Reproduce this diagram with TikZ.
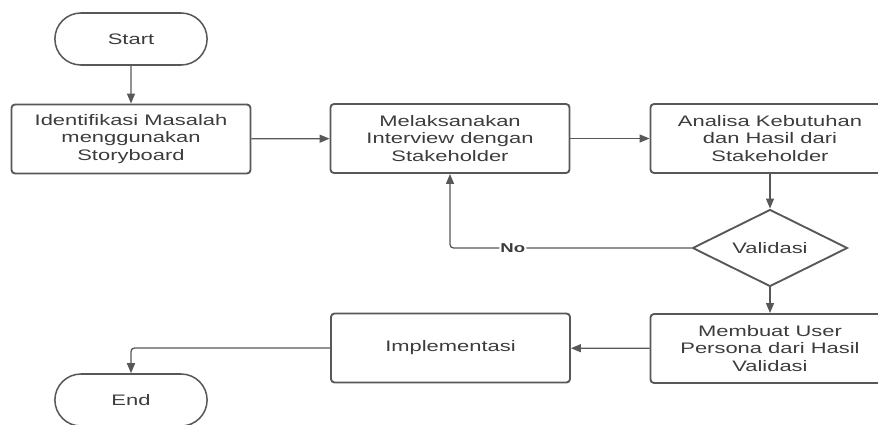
\documentclass[tikz,border=0pt]{standalone}
\usepackage{fontspec}
\setmainfont[FakeStretch=1.44]{Liberation Sans}
\usepackage{xcolor}
\usepackage{tikz}
\usetikzlibrary{positioning,shapes,shapes.misc,shapes.geometric,arrows.meta}
\definecolor{linegray}{RGB}{88,88,88}
\definecolor{textgray}{RGB}{60,60,60}

\begin{document}
\begin{tikzpicture}[x=0.03cm, y=-0.03cm,
  box/.style={draw=linegray, line width=1.6pt, rectangle, rounded corners=3pt, minimum width=7.17cm, minimum height=2.07cm, align=center, text=textgray, font=\fontsize{13}{15}\selectfont},
  terminal/.style={draw=linegray, line width=1.3pt, rounded rectangle, minimum width=4.8cm, minimum height=1.56cm, text=textgray, font=\fontsize{13}{15}\selectfont},
  decision/.style={draw=linegray, line width=1.6pt, diamond, aspect=2, minimum width=4.65cm, minimum height=2.31cm, inner sep=0pt, text=textgray, font=\fontsize{13}{15}\selectfont},
  arr/.style={draw=linegray, line width=1.1pt, -{Triangle[length=3mm, width=2.4mm]}}]
\clip (0,0) rectangle (878,424);

\node[terminal] (start) at (131,39) {Start};
\node[box] (ident) at (131,139) {Identifikasi Masalah\\menggunakan\\Storyboard};
\node[box] (melak) at (450,138.5) {Melaksanakan\\Interview dengan\\Stakeholder};
\node[box] (analisa) at (770,138.5) {Analisa Kebutuhan\\dan Hasil dari\\Stakeholder};
\node[decision] (valid) at (770,248) {Validasi};
\node[box] (persona) at (770,348.5) {Membuat User\\Persona dari Hasil\\Validasi};
\node[box] (impl) at (450.5,348) {Implementasi};
\node[terminal] (end) at (131,400) {End};

\draw[arr] (start) -- (ident);
\draw[arr] (ident) -- (melak);
\draw[arr] (melak) -- (analisa);
\draw[arr] (analisa) -- (valid);
\draw[arr] (valid) -- (persona);
\draw[arr] (persona) -- (impl);
\draw[arr, rounded corners=3pt] (impl.west) -| (end.north);
\draw[arr, rounded corners=3pt] (valid.west) -| (melak.south)
  node[pos=0.37, fill=white, inner sep=1pt, text=textgray, font=\fontsize{11}{13}\selectfont\bfseries] {No};
\end{tikzpicture}
\end{document}
